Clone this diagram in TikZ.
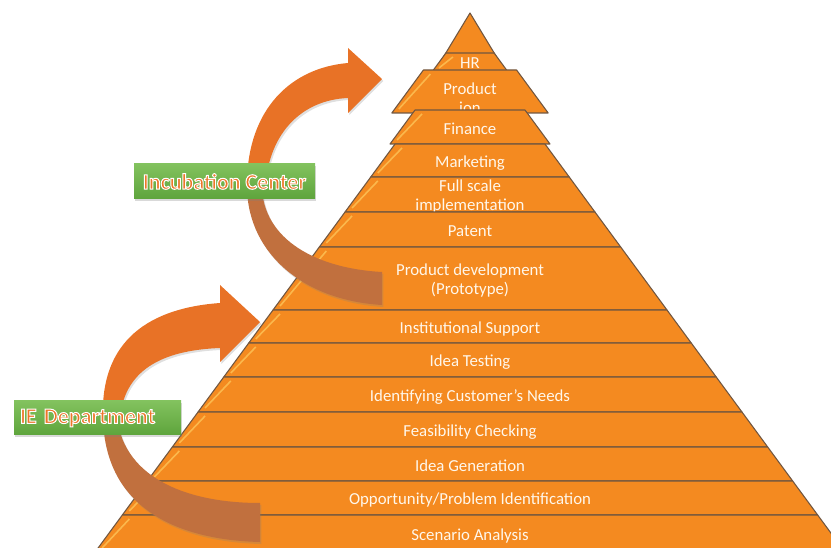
\documentclass[tikz,border=0pt]{standalone}
\usepackage{fontspec}
\setmainfont{Carlito}
\usetikzlibrary{shadows}

\definecolor{pyrorange}{RGB}{244,138,32}
\definecolor{bandline}{RGB}{112,86,64}
\definecolor{bevelhi}{RGB}{255,204,96}
\definecolor{arrfront}{RGB}{232,114,38}
\definecolor{arrback}{RGB}{193,112,62}
\definecolor{greentop}{RGB}{130,194,94}
\definecolor{greenbot}{RGB}{94,164,60}
\definecolor{labelorange}{RGB}{237,118,40}
\definecolor{bandtext}{RGB}{255,247,235}

% white rim round the label text
\newcommand{\rimtext}[1]{\special{pdf:literal direct 2 Tr 1 1 1 RG 0.75 w}#1\special{pdf:literal direct 0 Tr}}

% one slice of the pyramid: top y, bottom y, extra half width
\newcommand{\slice}[3]{%
  \filldraw[slicebox] ({470-0.735*(#1-42)-#3},#1) -- ({470+0.735*(#1-42)+#3},#1)
    -- ({470+0.735*(#2-42)+#3},#2) -- ({470-0.735*(#2-42)-#3},#2) -- cycle;
  \draw[bevel] ({470-0.735*(#2-42)-#3+7},#2-4) -- ({470-0.735*(#1-42)-#3+7},#1+4);
}

\tikzset{
  slicebox/.style={fill=pyrorange, draw=bandline, line width=0.8pt, line join=round},
  bevel/.style={draw=bevelhi, line width=1.2pt, opacity=0.7},
  slicetext/.style={text=bandtext, font=\fontsize{12.6}{14.8}\selectfont, align=center,
    inner sep=0pt, yshift=-1.6pt},
  labelbox/.style={top color=greentop, bottom color=greenbot, draw=none, text=labelorange,
    font=\fontsize{16.5}{18}\selectfont\bfseries, drop shadow={opacity=0.3, shadow xshift=1pt, shadow yshift=-1.2pt}},
  curvefront/.style={fill=arrfront, drop shadow={opacity=0.25, shadow xshift=1pt, shadow yshift=-1.5pt}},
  curveback/.style={fill=arrback, drop shadow={opacity=0.25, shadow xshift=1pt, shadow yshift=-1.5pt}},
}

\begin{document}
\begin{tikzpicture}[x=0.75pt, y=-0.75pt]
  \useasboundingbox (0,0) rectangle (831,548);
  \clip (0,0) rectangle (831,548);

  % top of the pyramid
  \filldraw[slicebox] (470,13) -- (496,56) -- (444,56) -- cycle;
  \slice{53}{72}{16}
  \node[slicetext] (hr) at (470,61) {HR};
  \slice{70}{113}{26}
  \node[slicetext] (prod) at (470,96) {Product\\ion};
  \slice{110}{144}{5}
  \node[slicetext] (fin) at (470,127) {Finance};

  % the regular slices
  \foreach \yt/\yb/\nm/\txt in {144/177/mkt/Marketing, 177/212/full/{Full scale\\implementation},
      212/247/pat/Patent, 247/310/proto/{Product development\\(Prototype)},
      310/343/inst/Institutional Support, 343/377/test/Idea Testing,
      377/412/need/Identifying Customer’s Needs, 412/447/feas/Feasibility Checking,
      447/481/gen/Idea Generation, 481/515/opp/{Opportunity/Problem Identification},
      515/552/scen/Scenario Analysis}{
    \slice{\yt}{\yb}{0}
    \node[slicetext] (\nm) at (470,{(\yt+\yb)/2}) {\txt};
  }

  % upper curved arrow
  \fill[curveback] (247,182) .. controls (245,250) and (300,300) .. (382,305)
    -- (382,272) .. controls (310,268) and (260,235) .. (262,182) -- cycle;
  \fill[curvefront] (247,182) .. controls (248,110) and (290,68) .. (348,63)
    -- (348,48) -- (382,79) -- (348,113) -- (348,98)
    .. controls (300,100) and (270,135) .. (266,182) -- cycle;

  % lower curved arrow
  \fill[curveback] (103,418) .. controls (105,510) and (180,540) .. (260,542)
    -- (260,503) .. controls (190,503) and (125,480) .. (117,418) -- cycle;
  \fill[curvefront] (103,418) .. controls (100,340) and (150,308) .. (220,303)
    -- (220,285) -- (260,322) -- (220,362) -- (220,348)
    .. controls (170,350) and (125,365) .. (120,418) -- cycle;

  % the two labels
  \node[labelbox, minimum width=135.75pt, minimum height=26.25pt] (inc) at (224.5,181.5)
    {\rimtext{Incubation Center}};
  \node[labelbox, minimum height=25.5pt, inner xsep=4.5pt, text width=116.25pt, align=left]
    (ied) at (97.5,418) {\rimtext{IE Department}};
\end{tikzpicture}
\end{document}
